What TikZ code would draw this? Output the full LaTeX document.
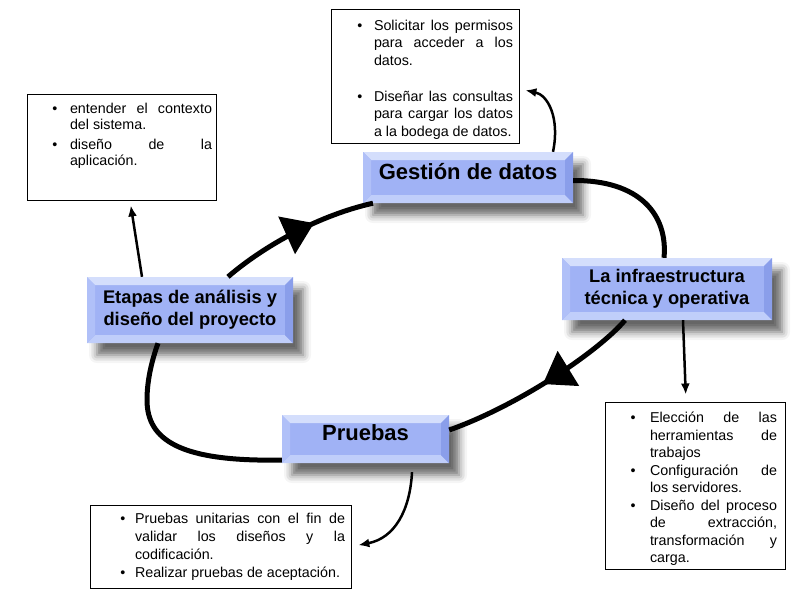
\documentclass[tikz,border=0pt]{standalone}
\usepackage{fontspec}
\setmainfont{Liberation Sans}
\usepackage{enumitem}
\usetikzlibrary{arrows.meta, decorations.markings, shadows.blur}

\definecolor{stageface}{RGB}{160,178,245}
\definecolor{stagetop}{RGB}{212,222,252}
\definecolor{stagebottom}{RGB}{192,206,250}
\definecolor{stageleft}{RGB}{176,192,248}
\definecolor{stageright}{RGB}{138,158,234}

\setlist[itemize]{nosep, label=\textbullet}
\hyphenpenalty=10000
\tolerance=10000

\newcommand{\bb}{path picture bounding box}

\tikzset{
    bevel/.style={path picture={
        \fill[stagetop] (\bb.north west) -- (\bb.north east)
            -- ([shift={(-8pt,-8pt)}]\bb.north east) -- ([shift={(8pt,-8pt)}]\bb.north west) -- cycle;
        \fill[stagebottom] (\bb.south west) -- (\bb.south east)
            -- ([shift={(-8pt,8pt)}]\bb.south east) -- ([shift={(8pt,8pt)}]\bb.south west) -- cycle;
        \fill[stageleft] (\bb.north west) -- (\bb.south west)
            -- ([shift={(8pt,8pt)}]\bb.south west) -- ([shift={(8pt,-8pt)}]\bb.north west) -- cycle;
        \fill[stageright] (\bb.north east) -- (\bb.south east)
            -- ([shift={(-8pt,8pt)}]\bb.south east) -- ([shift={(-8pt,-8pt)}]\bb.north east) -- cycle;
    }}
}

\begin{document}
\begin{tikzpicture}[x=1pt, y=-1pt,
    stage/.style={fill=stageface, bevel, align=center, inner sep=0pt,
        font=\bfseries\fontsize{22}{26}\selectfont,
        blur shadow={shadow xshift=10pt, shadow yshift=-12pt,
            shadow blur radius=8pt, shadow opacity=60}},
    notes/.style={draw=black, line width=1pt, fill=white, align=justify,
        inner ysep=0pt, font=\fontsize{14.3}{17.8}\selectfont},
    cycleline/.style={line width=5pt},
    midarrow/.style={postaction={decorate, decoration={markings,
        mark=at position #1 with {\arrow{Triangle[length=30pt, width=40pt]}}}}},
    pointer/.style={line width=2.5pt, -{Latex[length=11pt, width=9pt]}}]
    \useasboundingbox (0,0) rectangle (800,600);

    % the four stages
    \node[stage, minimum width=210pt, minimum height=51pt,
        text height=15pt, text depth=12pt] (gestion) at (468,177.5) {Gestión de datos};
    \node[stage, minimum width=206pt, minimum height=66pt,
        font=\bfseries\fontsize{18.3}{22.3}\selectfont] (etapas) at (190,310)
        {Etapas de análisis y\\diseño del proyecto};
    \node[stage, minimum width=210pt, minimum height=62pt,
        font=\bfseries\fontsize{18.3}{21.7}\selectfont] (infra) at (667,289)
        {La infraestructura\\técnica y operativa};
    \node[stage, minimum width=167pt, minimum height=48pt,
        text height=15pt, text depth=12pt] (pruebas) at (365.5,439) {Pruebas};

    % notes
    \node[notes, text width=176pt, inner xsep=6pt, minimum height=134pt] (permisos) at (425,76) {%
        \begin{itemize}[leftmargin=37pt, labelsep=11.5pt, itemsep=17.7pt]
            \item Solicitar los permisos\linebreak para acceder a los\linebreak datos.
            \item Diseñar las consultas\linebreak para cargar los datos\linebreak a la bodega de datos.
        \end{itemize}};
    \node[notes, text width=181pt, inner xsep=4pt, minimum height=106pt,
        font=\fontsize{14.3}{16}\selectfont] (contexto) at (121.5,147) {%
        \begin{itemize}[leftmargin=39pt, labelsep=12.5pt, itemsep=4pt]
            \item entender el contexto\linebreak del sistema.
            \item diseño de la\linebreak aplicación.
        \end{itemize}\vspace{29pt}\hrule height 0pt};
    \node[notes, text width=164pt, inner xsep=8pt, minimum height=167pt,
        font=\fontsize{14.3}{17.5}\selectfont] (servidores) at (695,485.5) {%
        \begin{itemize}[leftmargin=37pt, labelsep=14.5pt]
            \item Elección de las\linebreak herramientas de\linebreak trabajos
            \item Configuración de\linebreak los servidores.
            \item Diseño del proceso\linebreak de extracción,\linebreak transformación y\linebreak carga.
        \end{itemize}};
    \node[notes, text width=249pt, inner xsep=6pt, minimum height=83pt,
        font=\fontsize{14.3}{18}\selectfont] (aceptacion) at (220.5,546.5) {%
        \begin{itemize}[leftmargin=39pt, labelsep=9.5pt]
            \item Pruebas unitarias con el fin de\linebreak validar los diseños y la\linebreak codificación.
            \item Realizar pruebas de aceptación.
        \end{itemize}\vspace{8pt}\hrule height 0pt};

    % cycle
    \draw[cycleline, midarrow=0.62] ([xshift=38pt]etapas.north)
        .. controls (265,245) and (320,215) .. ([xshift=-95pt]gestion.south);
    \draw[cycleline] ([yshift=-3pt]gestion.east)
        .. controls (640,180) and (668,215) .. ([xshift=-3pt]infra.north);
    \draw[cycleline, midarrow=0.5] ([xshift=-42pt]infra.south)
        .. controls (600,350) and (520,405) .. ([yshift=9pt]pruebas.east);
    \draw[cycleline] ([yshift=-21pt]pruebas.west)
        .. controls (180,462) and (147,440) .. (147,400)
        .. controls (147,380) and (152,360) .. ([xshift=-32pt]etapas.south);

    % pointers to the notes
    \draw[pointer, shorten >=5pt] ([xshift=-48pt]etapas.north) -- ([xshift=8.5pt]contexto.south);
    \draw[pointer, shorten >=6pt] ([xshift=85pt]gestion.north)
        .. controls (560,118) and (548,95) .. ([yshift=-13pt]permisos.east);
    \draw[pointer, shorten >=7pt] ([xshift=16pt]infra.south) -- ([xshift=-9pt]servidores.north);
    \draw[pointer, shorten <=9pt, shorten >=7pt] ([xshift=47pt]pruebas.south)
        .. controls (410,510) and (395,538) .. (aceptacion.east);
\end{tikzpicture}
\end{document}
